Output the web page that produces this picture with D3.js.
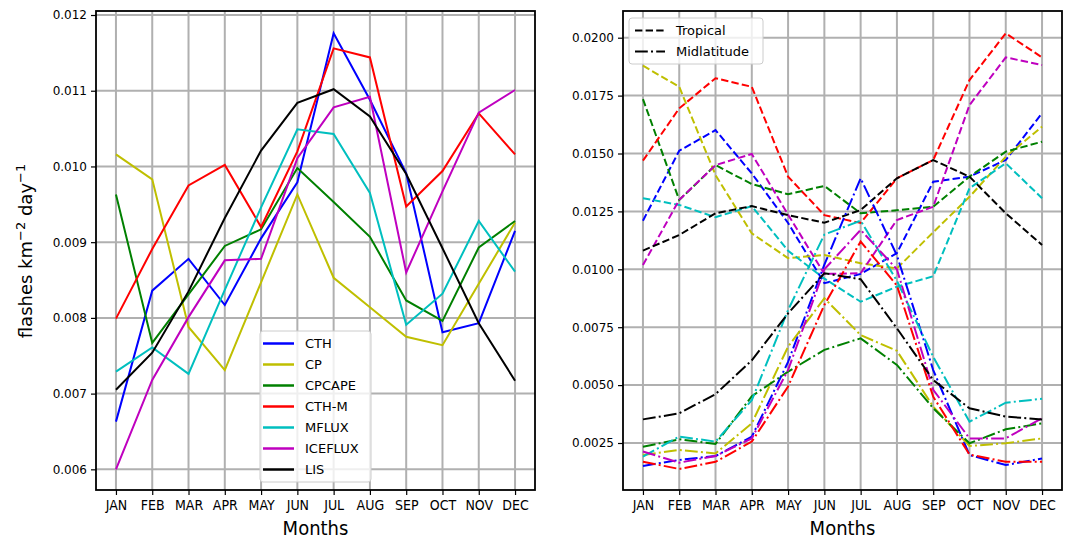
<!DOCTYPE html>
<html>
<head>
<meta charset="utf-8">
<script src="https://cdn.jsdelivr.net/npm/d3@7"></script>
<style>
    body { margin: 0; background: #fff; }
    svg { font-family: "DejaVu Sans", sans-serif; }
</style>
</head>
<body>
<div id="chart-holder"></div>
<script>
// month categories
const months = ["JAN", "FEB", "MAR", "APR", "MAY", "JUN", "JUL", "AUG", "SEP", "OCT", "NOV", "DEC"]

// left panel: all regions
const allCTH = [0.00663, 0.00836, 0.00878, 0.00817, 0.00905, 0.00979, 0.01176, 0.01088, 0.00991, 0.00781, 0.00793, 0.00915]
const allCP = [0.01016, 0.00983, 0.00788, 0.00731, 0.00847, 0.00963, 0.00853, 0.00814, 0.00775, 0.00764, 0.00845, 0.00926]
const allCPCAPE = [0.00963, 0.00767, 0.00831, 0.00895, 0.00917, 0.00998, 0.00953, 0.00907, 0.00823, 0.00796, 0.00893, 0.00928]
const allCTHM = [0.00799, 0.00891, 0.00975, 0.01002, 0.00920, 0.01020, 0.01156, 0.01144, 0.00947, 0.00994, 0.01070, 0.01016]
const allMFLUX = [0.00729, 0.00761, 0.00726, 0.00837, 0.00946, 0.01049, 0.01043, 0.00965, 0.00791, 0.00832, 0.00928, 0.00861]
const allICEFLUX = [0.00600, 0.00718, 0.00801, 0.00876, 0.00878, 0.01011, 0.01078, 0.01092, 0.00860, 0.00967, 0.01071, 0.01101]
const allLIS = [0.00705, 0.00754, 0.00835, 0.00932, 0.01021, 0.01084, 0.01102, 0.01066, 0.00990, 0.00892, 0.00793, 0.00717]

// right panel: tropical (dashed)
const tropCTH = [0.01210, 0.01512, 0.01601, 0.01414, 0.01200, 0.00940, 0.00980, 0.01070, 0.01378, 0.01400, 0.01472, 0.01674]
const tropCP = [0.01879, 0.01788, 0.01407, 0.01155, 0.01048, 0.01062, 0.01026, 0.01004, 0.01160, 0.01313, 0.01486, 0.01616]
const tropCPCAPE = [0.01735, 0.01299, 0.01450, 0.01368, 0.01324, 0.01360, 0.01242, 0.01255, 0.01270, 0.01400, 0.01508, 0.01551]
const tropCTHM = [0.01469, 0.01695, 0.01825, 0.01788, 0.01400, 0.01234, 0.01200, 0.01393, 0.01472, 0.01817, 0.02019, 0.01915]
const tropMFLUX = [0.01307, 0.01278, 0.01225, 0.01273, 0.01080, 0.00960, 0.00860, 0.00925, 0.00970, 0.01350, 0.01458, 0.01307]
const tropICEFLUX = [0.01019, 0.01300, 0.01450, 0.01498, 0.01236, 0.00980, 0.00983, 0.01213, 0.01270, 0.01709, 0.01915, 0.01882]
const tropLIS = [0.01081, 0.01148, 0.01242, 0.01273, 0.01234, 0.01201, 0.01256, 0.01393, 0.01472, 0.01400, 0.01242, 0.01105]

// right panel: midlatitude (dash-dot)
const midCTH = [0.00151, 0.00177, 0.00194, 0.00277, 0.00600, 0.01020, 0.01393, 0.01060, 0.00565, 0.00198, 0.00155, 0.00183]
const midCP = [0.00198, 0.00220, 0.00205, 0.00335, 0.00666, 0.00875, 0.00716, 0.00648, 0.00407, 0.00237, 0.00249, 0.00270]
const midCPCAPE = [0.00234, 0.00266, 0.00246, 0.00452, 0.00558, 0.00652, 0.00702, 0.00587, 0.00400, 0.00249, 0.00309, 0.00335]
const midCTHM = [0.00169, 0.00138, 0.00169, 0.00256, 0.00494, 0.00846, 0.01120, 0.00930, 0.00450, 0.00200, 0.00169, 0.00169]
const midMFLUX = [0.00191, 0.00278, 0.00256, 0.00435, 0.00824, 0.01150, 0.01210, 0.00950, 0.00622, 0.00342, 0.00424, 0.00441]
const midICEFLUX = [0.00213, 0.00165, 0.00194, 0.00270, 0.00565, 0.01000, 0.01170, 0.01000, 0.00480, 0.00270, 0.00270, 0.00357]
const midLIS = [0.00352, 0.00378, 0.00461, 0.00607, 0.00810, 0.00983, 0.00957, 0.00745, 0.00522, 0.00400, 0.00364, 0.00352]

const leftTicks = [0.006, 0.007, 0.008, 0.009, 0.010, 0.011, 0.012]
const rightTicks = [0.0025, 0.0050, 0.0075, 0.0100, 0.0125, 0.0150, 0.0175, 0.0200]

const leftSeries = [
    { name: "CTH", color: "#0000ff", values: allCTH },
    { name: "CP", color: "#bfbf00", values: allCP },
    { name: "CPCAPE", color: "#008000", values: allCPCAPE },
    { name: "CTH-M", color: "#ff0000", values: allCTHM },
    { name: "MFLUX", color: "#00bfbf", values: allMFLUX },
    { name: "ICEFLUX", color: "#bf00bf", values: allICEFLUX },
    { name: "LIS", color: "#000000", values: allLIS }
]

const dash = "7.4,3.2"
const dashDot = "12.8,3.2,2,3.2"

const rightSeries = [
    { color: "#0000ff", values: tropCTH, dash: dash },
    { color: "#bfbf00", values: tropCP, dash: dash },
    { color: "#008000", values: tropCPCAPE, dash: dash },
    { color: "#ff0000", values: tropCTHM, dash: dash },
    { color: "#00bfbf", values: tropMFLUX, dash: dash },
    { color: "#bf00bf", values: tropICEFLUX, dash: dash },
    { color: "#000000", values: tropLIS, dash: dash },
    { color: "#0000ff", values: midCTH, dash: dashDot },
    { color: "#bfbf00", values: midCP, dash: dashDot },
    { color: "#008000", values: midCPCAPE, dash: dashDot },
    { color: "#ff0000", values: midCTHM, dash: dashDot },
    { color: "#00bfbf", values: midMFLUX, dash: dashDot },
    { color: "#bf00bf", values: midICEFLUX, dash: dashDot },
    { color: "#000000", values: midLIS, dash: dashDot }
]

var svg = d3.select("#chart-holder")
    .append("svg")
    .attr("width", 1069)
    .attr("height", 541)

// one panel: frame, grid, ticks, lines
function drawPanel(box, yDomain, yTicks, yFormat, series) {

    var x = d3.scaleLinear().domain([-0.55, 11.55]).range([box.left, box.right])
    var y = d3.scaleLinear().domain(yDomain).range([box.bottom, box.top])

    var g = svg.append("g")

    // grid
    g.selectAll(".vgrid")
        .data(months)
        .enter()
        .append("line")
        .attr("x1", (d, i) => x(i))
        .attr("x2", (d, i) => x(i))
        .attr("y1", box.top)
        .attr("y2", box.bottom)
        .attr("stroke", "#b0b0b0")
        .attr("stroke-width", 2)

    g.selectAll(".hgrid")
        .data(yTicks)
        .enter()
        .append("line")
        .attr("x1", box.left)
        .attr("x2", box.right)
        .attr("y1", d => y(d))
        .attr("y2", d => y(d))
        .attr("stroke", "#b0b0b0")
        .attr("stroke-width", 2)

    // lines
    var line = d3.line()
        .x((d, i) => x(i))
        .y(d => y(d))

    g.selectAll(".series")
        .data(series)
        .enter()
        .append("path")
        .attr("d", d => line(d.values))
        .attr("fill", "none")
        .attr("stroke", d => d.color)
        .attr("stroke-width", 2)
        .attr("stroke-dasharray", d => d.dash || null)

    // axes
    var xAxis = d3.axisBottom(x)
        .tickValues(d3.range(12))
        .tickFormat(i => months[i])
        .tickSizeOuter(0)
        .tickSize(5)
        .tickPadding(5)

    var yAxis = d3.axisLeft(y)
        .tickValues(yTicks)
        .tickFormat(yFormat)
        .tickSizeOuter(0)
        .tickSize(5)
        .tickPadding(4)

    var gx = g.append("g")
        .attr("transform", `translate(0,${box.bottom})`)
        .call(xAxis)
    gx.select(".domain").remove()
    gx.selectAll("line").attr("stroke", "#000").attr("stroke-width", 1.2)
    gx.selectAll("text")
        .attr("font-size", 14)
        .attr("fill", "#000")
        .attr("font-family", "DejaVu Sans")
        .style("font-stretch", "condensed")

    var gy = g.append("g")
        .attr("transform", `translate(${box.left},0)`)
        .call(yAxis)
    gy.select(".domain").remove()
    gy.selectAll("line").attr("stroke", "#000").attr("stroke-width", 1.2)
    gy.selectAll("text")
        .attr("font-size", 12)
        .attr("fill", "#000")
        .attr("font-family", "DejaVu Sans")

    // frame
    g.append("rect")
        .attr("x", box.left)
        .attr("y", box.top)
        .attr("width", box.right - box.left)
        .attr("height", box.bottom - box.top)
        .attr("fill", "none")
        .attr("stroke", "#000")
        .attr("stroke-width", 1.8)

    // x label
    g.append("text")
        .attr("x", (box.left + box.right) / 2)
        .attr("y", 535)
        .attr("text-anchor", "middle")
        .attr("font-size", 20)
        .style("font-stretch", "condensed")
        .text("Months")

    return g
}

const leftBox = { left: 96, right: 535, top: 11, bottom: 490 }
const rightBox = { left: 623, right: 1062, top: 11, bottom: 490 }

drawPanel(leftBox, [0.005727, 0.012053], leftTicks, d3.format(".3f"), leftSeries)
drawPanel(rightBox, [0.000471, 0.021153], rightTicks, d3.format(".4f"), rightSeries)

// y label
var ylab = svg.append("text")
    .attr("transform", "translate(32,251) rotate(-90)")
    .attr("text-anchor", "middle")
    .attr("font-size", 18)
ylab.append("tspan").text("flashes km")
ylab.append("tspan").attr("font-size", 13).attr("dy", -7).text("\u22122")
ylab.append("tspan").attr("dy", 7).text(" day")
ylab.append("tspan").attr("font-size", 13).attr("dy", -7).text("\u22121")

// left legend
var legL = svg.append("g").attr("transform", "translate(260,331)")
legL.append("rect")
    .attr("width", 111)
    .attr("height", 151)
    .attr("rx", 3)
    .attr("fill", "#fff")
    .attr("fill-opacity", 0.8)
    .attr("stroke", "#cccccc")
    .attr("stroke-width", 1)

var itemsL = legL.selectAll(".item")
    .data(leftSeries)
    .enter()
    .append("g")
    .attr("transform", (d, i) => `translate(0,${12.5 + i * 21})`)
itemsL.append("line")
    .attr("x1", 3).attr("x2", 34)
    .attr("stroke", d => d.color)
    .attr("stroke-width", 2.5)
itemsL.append("text")
    .attr("x", 45)
    .attr("dy", "0.35em")
    .attr("font-size", 13)
    .text(d => d.name)

// right legend
const legendNames = ["Tropical", "Midlatitude"]
const legendDashes = [dash, dashDot]

var legR = svg.append("g").attr("transform", "translate(629,18)")
legR.append("rect")
    .attr("width", 134)
    .attr("height", 46)
    .attr("rx", 3)
    .attr("fill", "#fff")
    .attr("fill-opacity", 0.8)
    .attr("stroke", "#cccccc")
    .attr("stroke-width", 1)

var itemsR = legR.selectAll(".item")
    .data(legendNames)
    .enter()
    .append("g")
    .attr("transform", (d, i) => `translate(0,${12.5 + i * 21})`)
itemsR.append("line")
    .attr("x1", 6).attr("x2", 36)
    .attr("stroke", "#000")
    .attr("stroke-width", 2)
    .attr("stroke-dasharray", (d, i) => legendDashes[i])
itemsR.append("text")
    .attr("x", 47)
    .attr("dy", "0.35em")
    .attr("font-size", 13)
    .text(d => d)
</script>
</body>
</html>
